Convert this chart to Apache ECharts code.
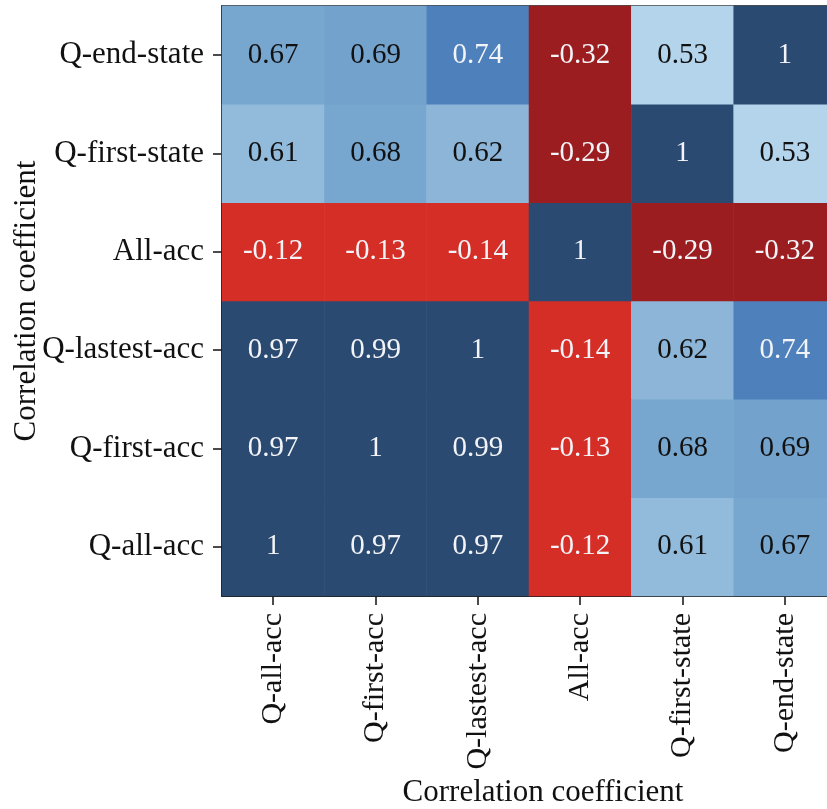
<!DOCTYPE html>
<html>
<head>
<meta charset="utf-8">
<script src="https://cdn.jsdelivr.net/npm/echarts@6/dist/echarts.min.js"></script>
<style>
  html, body { margin: 0; padding: 0; background: #ffffff; }
  #chart { width: 827px; height: 809px; }
</style>
</head>
<body>
<div id="chart"></div>
<script>
// Metric names, shared by both axes (y runs bottom to top)
const metrics = ['Q-all-acc', 'Q-first-acc', 'Q-lastest-acc', 'All-acc', 'Q-first-state', 'Q-end-state'];

// Correlation matrix rows, one per y category (bottom to top)
const rowQAllAcc      = [1, 0.97, 0.97, -0.12, 0.61, 0.67];
const rowQFirstAcc    = [0.97, 1, 0.99, -0.13, 0.68, 0.69];
const rowQLastestAcc  = [0.97, 0.99, 1, -0.14, 0.62, 0.74];
const rowAllAcc       = [-0.12, -0.13, -0.14, 1, -0.29, -0.32];
const rowQFirstState  = [0.61, 0.68, 0.62, -0.29, 1, 0.53];
const rowQEndState    = [0.67, 0.69, 0.74, -0.32, 0.53, 1];

const rows = [rowQAllAcc, rowQFirstAcc, rowQLastestAcc, rowAllAcc, rowQFirstState, rowQEndState];

const cells = [];
rows.forEach((row, yi) => row.forEach((v, xi) => cells.push([xi, yi, v])));

const serif = '"Liberation Serif", "DejaVu Serif", serif';

// Discrete colour scale: reds for negative values, blues for positive
const pieces = [
  { lt: -0.2, color: '#9c1d1f' },
  { gte: -0.2, lt: 0, color: '#d52e27' },
  { gte: 0.5, lt: 0.57, color: '#b3d4eb' },
  { gte: 0.57, lt: 0.615, color: '#91badb' },
  { gte: 0.615, lt: 0.65, color: '#8cb5d8' },
  { gte: 0.65, lt: 0.685, color: '#77a6cf' },
  { gte: 0.685, lt: 0.72, color: '#73a2cd' },
  { gte: 0.72, lt: 0.9, color: '#4e80bb' },
  { gte: 0.9, color: '#2b4a71' }
];

function textColor(v) {
  return (v < 0 || v >= 0.72) ? '#f2f4f8' : '#111111';
}

const chart = echarts.init(document.getElementById('chart'), null, { renderer: 'canvas' });
chart.setOption({
  animation: false,
  backgroundColor: '#ffffff',
  grid: {
    left: 222, top: 6, right: -9, bottom: 213,
    outerBoundsMode: 'none',
    containLabel: false,
    show: true, borderColor: '#111111', borderWidth: 1.5, backgroundColor: 'transparent'
  },
  visualMap: {
    type: 'piecewise', show: false, dimension: 2, pieces: pieces
  },
  xAxis: {
    type: 'category',
    data: metrics,
    name: 'Correlation coefficient',
    nameLocation: 'middle',
    nameGap: 180,
    nameTextStyle: { fontFamily: serif, fontSize: 31, color: '#111111', padding: [0, 0, 0, 28] },
    axisLine: { show: true, lineStyle: { color: '#111111', width: 1.5 } },
    axisTick: { show: true, alignWithLabel: true, length: 9, lineStyle: { color: '#111111', width: 1.5 } },
    axisLabel: { rotate: 90, margin: 17, fontFamily: serif, fontSize: 30, color: '#111111' },
    splitLine: { show: false }
  },
  yAxis: {
    type: 'category',
    data: metrics,
    name: 'Correlation coefficient',
    nameLocation: 'middle',
    nameGap: 180,
    nameMoveOverlap: false,
    nameTextStyle: { fontFamily: serif, fontSize: 31, color: '#111111' },
    axisLine: { show: true, lineStyle: { color: '#111111', width: 1.5 } },
    axisTick: { show: true, alignWithLabel: true, length: 9, lineStyle: { color: '#111111', width: 1.5 } },
    axisLabel: { margin: 18, fontFamily: serif, fontSize: 31, color: '#111111' },
    splitLine: { show: false }
  },
  series: [{
    type: 'heatmap',
    itemStyle: { borderWidth: 0 },
    label: {
      show: true,
      fontFamily: serif,
      fontSize: 29,
      formatter: p => String(p.value[2])
    },
    // Light text on dark cells, dark text on pale cells
    data: cells.map(c => ({ value: c, label: { color: textColor(c[2]) } }))
  }]
});
</script>
</body>
</html>
